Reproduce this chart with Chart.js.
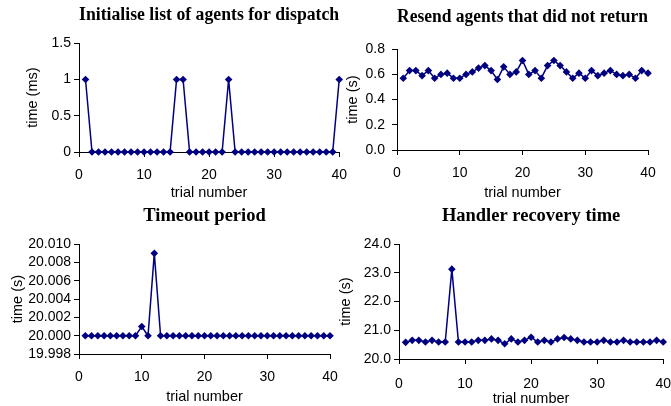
<!DOCTYPE html>
<html>
<head>
<meta charset="utf-8">
<script src="https://cdn.jsdelivr.net/npm/chart.js@4/dist/chart.umd.min.js"></script>
<style>
  body { margin: 0; background: #fff; }
  #wrap { position: relative; width: 671px; height: 406px; overflow: hidden; }
  .box { position: absolute; }
</style>
</head>
<body>
<div id="wrap">
  <div class="box" style="left:0;top:0;width:357px;height:200px"><canvas id="c1"></canvas></div>
  <div class="box" style="left:333px;top:0;width:338px;height:200px"><canvas id="c2"></canvas></div>
  <div class="box" style="left:0;top:200px;width:352px;height:206px"><canvas id="c3"></canvas></div>
  <div class="box" style="left:335px;top:200px;width:348px;height:206px"><canvas id="c4"></canvas></div>
</div>
<script>
// trial numbers (x values)
const trials = [1, 2, 3, 4, 5, 6, 7, 8, 9, 10, 11, 12, 13, 14, 15, 16, 17, 18, 19, 20,
  21, 22, 23, 24, 25, 26, 27, 28, 29, 30, 31, 32, 33, 34, 35, 36, 37, 38, 39, 40];

// time values
const initList = [1, 0, 0, 0, 0, 0, 0, 0, 0, 0, 0, 0, 0, 0, 1, 1, 0, 0, 0, 0,
  0, 0, 1, 0, 0, 0, 0, 0, 0, 0, 0, 0, 0, 0, 0, 0, 0, 0, 0, 1];
const resend = [0.57, 0.63, 0.63, 0.59, 0.63, 0.57, 0.60, 0.61, 0.57, 0.57, 0.60, 0.62, 0.65, 0.67, 0.63, 0.56, 0.66, 0.60, 0.62, 0.71,
  0.60, 0.63, 0.57, 0.67, 0.71, 0.67, 0.62, 0.57, 0.61, 0.57, 0.63, 0.59, 0.61, 0.63, 0.60, 0.59, 0.60, 0.57, 0.63, 0.61];
const timeout = [20.000, 20.000, 20.000, 20.000, 20.000, 20.000, 20.000, 20.000, 20.000, 20.001, 20.000, 20.009, 20.000, 20.000, 20.000, 20.000, 20.000, 20.000, 20.000, 20.000,
  20.000, 20.000, 20.000, 20.000, 20.000, 20.000, 20.000, 20.000, 20.000, 20.000, 20.000, 20.000, 20.000, 20.000, 20.000, 20.000, 20.000, 20.000, 20.000, 20.000];
const handler = [20.58, 20.65, 20.65, 20.59, 20.65, 20.59, 20.59, 23.13, 20.59, 20.59, 20.59, 20.65, 20.65, 20.70, 20.65, 20.53, 20.70, 20.59, 20.65, 20.76,
  20.59, 20.65, 20.59, 20.70, 20.75, 20.70, 20.65, 20.59, 20.59, 20.59, 20.65, 20.59, 20.59, 20.65, 20.59, 20.59, 20.59, 20.59, 20.65, 20.59];

// axis ticks
const xTicks = { min: 0, max: 40, step: 10 };
const titles = ['Initialise list of agents for dispatch', 'Resend agents that did not return', 'Timeout period', 'Handler recovery time'];
const yLabels = ['time (ms)', 'time (s)', 'time (s)', 'time (s)'];

const navy = '#000080';
const sans = 'Liberation Sans, Arial, sans-serif';

Chart.defaults.animation = false;
Chart.defaults.font.family = sans;
Chart.defaults.color = '#000';

function makeChart(id, idx, values, y, lay) {
  const points = trials.map((t, i) => ({ x: t, y: values[i] }));
  return new Chart(document.getElementById(id), {
    type: 'line',
    data: {
      datasets: [{
        data: points,
        borderColor: navy,
        backgroundColor: navy,
        borderWidth: 1.5,
        pointStyle: 'rectRot',
        pointRadius: 3.8,
        pointBorderWidth: 0,
        tension: 0,
        clip: false
      }]
    },
    options: {
      responsive: true,
      maintainAspectRatio: false,
      layout: { padding: { left: 0, right: lay.padRight, top: 0, bottom: 0 } },
      plugins: {
        legend: { display: false },
        tooltip: { enabled: false },
        title: {
          display: true,
          fullSize: false,
          text: titles[idx],
          color: '#000',
          font: { family: 'Liberation Serif, Times New Roman, serif', size: 18.5, weight: 'bold' },
          padding: { top: lay.titleTop, bottom: lay.titleBottom }
        }
      },
      scales: {
        x: {
          type: 'linear',
          min: xTicks.min,
          max: xTicks.max,
          afterFit: s => { s.height = lay.xHeight; },
          border: { display: true, color: '#000', width: 1 },
          grid: { display: true, drawOnChartArea: false, drawTicks: true, tickLength: 5, color: '#000' },
          ticks: { stepSize: xTicks.step, padding: lay.xTickPad, font: { size: 14 }, maxRotation: 0 },
          title: { display: true, text: 'trial number', font: { size: 14.5 }, padding: { top: 0, bottom: lay.xTitlePad } }
        },
        y: {
          min: y.min,
          max: y.max,
          afterFit: s => { s.width = lay.yWidth; },
          border: { display: true, color: '#000', width: 1 },
          grid: { display: true, drawOnChartArea: false, drawTicks: true, tickLength: 5, color: '#000' },
          ticks: {
            stepSize: y.step,
            autoSkip: false,
            padding: lay.yTickPad,
            font: { size: 14 },
            callback: v => y.fmt(v)
          },
          title: { display: true, text: yLabels[idx], font: { size: 14.5 }, padding: { top: lay.yTitlePad, bottom: 0 } }
        }
      }
    }
  });
}

makeChart('c1', 0, initList,
  { min: 0, max: 1.5, step: 0.5, fmt: v => String(+v.toFixed(1)) },
  { padRight: 13, titleTop: 4, titleBottom: 17, xHeight: 48, xTickPad: 10, xTitlePad: -2, yWidth: 79, yTickPad: 3, yTitlePad: 24 });

makeChart('c2', 1, resend,
  { min: 0, max: 0.8, step: 0.2, fmt: v => v.toFixed(1) },
  { padRight: 23, titleTop: 6, titleBottom: 21, xHeight: 50, xTickPad: 10, xTitlePad: -2, yWidth: 64, yTickPad: 7, yTitlePad: 11 });

makeChart('c3', 2, timeout,
  { min: 19.998, max: 20.010, step: 0.002, fmt: v => v.toFixed(3) },
  { padRight: 22, titleTop: 5, titleBottom: 17, xHeight: 52, xTickPad: 10, xTitlePad: 0, yWidth: 79, yTickPad: 3, yTitlePad: 9 });

makeChart('c4', 3, handler,
  { min: 20, max: 24, step: 1, fmt: v => v.toFixed(1) },
  { padRight: 8, titleTop: 5, titleBottom: 17, xHeight: 47, xTickPad: 12, xTitlePad: -2, yWidth: 64, yTickPad: 3, yTitlePad: 2 });
</script>
</body>
</html>
